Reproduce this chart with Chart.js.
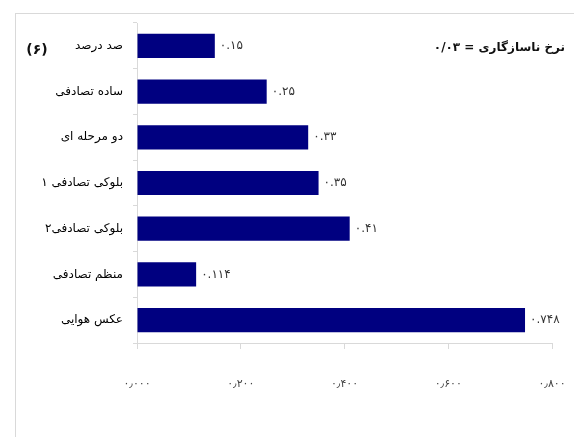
<!DOCTYPE html>
<html lang="fa">
<head>
<meta charset="utf-8">
<script src="https://cdn.jsdelivr.net/npm/chart.js@4.4.1/dist/chart.umd.min.js"></script>
<style>
    html, body { margin: 0; padding: 0; background: #fff; }
    #wrap { position: relative; width: 574px; height: 437px; overflow: hidden; }
    #frame {
        position: absolute; left: 15px; top: 13px; width: 600px; height: 500px;
        border-left: 1px solid #d9d9d9; border-top: 1px solid #d9d9d9;
    }
    canvas { position: absolute; left: 0; top: 0; }
</style>
</head>
<body>
<div id="wrap">
    <div id="frame"></div>
    <canvas id="inconsistencyChart" width="574" height="437"></canvas>
</div>
<script>
// Sampling methods and their inconsistency values
const methods = ['صد درصد', 'ساده تصادفی', 'دو مرحله ای', 'بلوکی تصادفی ۱', 'بلوکی تصادفی۲', 'منظم تصادفی', 'عکس هوایی'];
const values = [0.15, 0.25, 0.33, 0.35, 0.41, 0.114, 0.748];
const valueLabels = ['۰.۱۵', '۰.۲۵', '۰.۳۳', '۰.۳۵', '۰.۴۱', '۰.۱۱۴', '۰.۷۴۸'];
const xTicks = ['۰٫۰۰۰', '۰٫۲۰۰', '۰٫۴۰۰', '۰٫۶۰۰', '۰٫۸۰۰'];
const rateText = 'نرخ ناسازگاری = ۰/۰۳';
const panelText = '(۶)';

const FONT = '"DejaVu Sans", sans-serif';

// Writes the value next to each bar, plus the rate note and panel number
const barLabels = {
    id: 'barLabels',
    afterDatasetsDraw(chart) {
        const ctx = chart.ctx;
        const meta = chart.getDatasetMeta(0);
        ctx.save();
        ctx.font = '12px ' + FONT;
        ctx.fillStyle = '#333';
        ctx.textAlign = 'left';
        ctx.textBaseline = 'middle';
        meta.data.forEach(function(bar, i) {
            ctx.fillText(valueLabels[i], bar.x + 5, bar.y);
        });

        ctx.font = 'bold 12px ' + FONT;
        ctx.fillStyle = '#111';
        ctx.textAlign = 'right';
        ctx.fillText(rateText, 565, 48);

        ctx.font = 'bold 14px ' + FONT;
        ctx.textAlign = 'center';
        ctx.fillText(panelText, 37, 50);
        ctx.restore();
    }
};

const chartEl = document.getElementById('inconsistencyChart');
new Chart(chartEl, {
    type: 'bar',
    data: {
        labels: methods,
        datasets: [{
            data: values,
            backgroundColor: '#000080',
            borderWidth: 0,
            categoryPercentage: 1,
            barPercentage: 0.53
        }]
    },
    options: {
        indexAxis: 'y',
        responsive: false,
        animation: false,
        layout: { padding: { top: 23, right: 22, left: 0, bottom: 0 } },
        plugins: {
            legend: { display: false },
            tooltip: { enabled: false }
        },
        scales: {
            x: {
                min: 0,
                max: 0.8,
                afterFit(scale) {
                    // keep the tick label gap from widening the side margins
                    scale.height = 94;
                    scale.paddingLeft = 0;
                    scale.paddingRight = 0;
                },
                afterBuildTicks(scale) {
                    scale.ticks = [0, 0.2, 0.4, 0.6, 0.8].map(v => ({ value: v }));
                },
                ticks: {
                    padding: 29,
                    color: '#444',
                    font: { family: FONT, size: 11 },
                    callback: (v, i) => xTicks[i]
                },
                grid: {
                    drawOnChartArea: false,
                    color: '#d9d9d9',
                    tickLength: 6
                },
                border: { color: '#d9d9d9' }
            },
            y: {
                afterFit(scale) { scale.width = 137; },
                ticks: {
                    padding: 10,
                    color: '#000',
                    font: { family: FONT, size: 12 }
                },
                grid: {
                    drawOnChartArea: false,
                    color: '#d9d9d9',
                    tickLength: 4
                },
                border: { color: '#d9d9d9' }
            }
        }
    },
    plugins: [barLabels]
});
</script>
</body>
</html>
